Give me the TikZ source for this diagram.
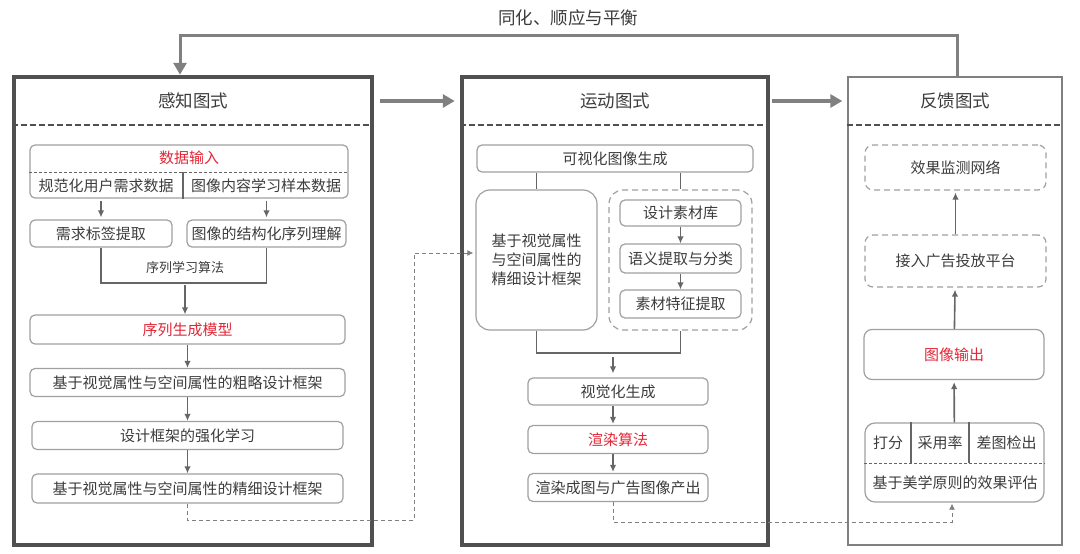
\documentclass[tikz,border=0pt]{standalone}
\usepackage{fontspec}
\setmainfont{Noto Sans CJK SC}
\usepackage{tikz}
\usetikzlibrary{shapes,arrows,arrows.meta}
\definecolor{frameGray}{HTML}{505050}
\definecolor{boxGray}{HTML}{A0A0A0}
\definecolor{lineGray}{HTML}{666666}
\definecolor{textGray}{HTML}{3C3C3C}
\definecolor{keyRed}{HTML}{E32636}
\tikzstyle{schemaFrame} = [rectangle, draw=frameGray, line width=4.5pt, inner sep=0pt]
\tikzstyle{block} = [rectangle, draw=boxGray, line width=1.2pt, rounded corners=5pt,
inner sep=0pt, text=textGray, font=\fontsize{15}{19}\selectfont]
\tikzstyle{dashblock} = [block, dash pattern=on 6pt off 4pt]
\tikzstyle{cellText} = [inner sep=0pt, text=textGray, font=\fontsize{15}{19}\selectfont]
\tikzstyle{headline} = [text=textGray, font=\fontsize{17.5}{20}\selectfont]
\tikzstyle{sepline} = [draw=frameGray, line width=1.6pt, dash pattern=on 6pt off 3pt]
\tikzstyle{thinDash} = [draw=lineGray, line width=0.8pt, dash pattern=on 3pt off 2pt]
\tikzstyle{line} = [draw=lineGray, line width=1.6pt]
\tikzstyle{arrowline} = [line, -{Latex[length=7pt, width=6.5pt]}]
\tikzstyle{bigarrow} = [draw=gray, line width=3.5pt, -{Triangle[length=12pt, width=13pt]}]
\tikzstyle{dashline} = [draw=gray, line width=1pt, dash pattern=on 4pt off 3pt, -{Latex[length=6pt, width=6pt]}]

\begin{document}
\begin{tikzpicture}[x=1pt, y=-1pt, node distance=53pt]
	\useasboundingbox (0,0) rectangle (1080,554);
	% Place frames
	\node [schemaFrame, minimum width=358, minimum height=468] (percFrame) at (193,311) {};
	\node [schemaFrame, minimum width=306, minimum height=468] (moveFrame) at (615,311) {};
	\node [schemaFrame, draw=gray, line width=1.3pt, minimum width=214, minimum height=468] (fbFrame) at (955,311) {};
	\node [headline] (percTitle) at (193,101) {感知图式};
	\node [headline] (moveTitle) at (615,101) {运动图式};
	\node [headline] (fbTitle) at (955,101) {反馈图式};
	\foreach \f in {percFrame, moveFrame, fbFrame}
		\path [sepline] (\f.west |- 0,125) -- (\f.east |- 0,125);

	\path [bigarrow, shorten <=6pt, shorten >=5pt] (percFrame.east |- percTitle) -- (moveFrame.west |- percTitle);
	\path [bigarrow, shorten <=2pt, shorten >=5pt] (moveFrame.east |- moveTitle) -- (fbFrame.west |- fbTitle);
	\coordinate (loopCorner) at (180,35);
	\path [bigarrow, line width=3pt] (fbFrame.north -| 957,0) |- (loopCorner) -- (loopCorner |- percFrame.north);
	\node [headline] (loopLabel) at (568,18) {同化、顺应与平衡};

	% Place nodes: perception
	\node [block, minimum width=318, minimum height=53] (dataIn) at (189,171.5) {};
	\node [cellText, text=keyRed] (dataTitle) at (189,158) {数据输入};
	\node [cellText] (dataLeft) at (106,186) {规范化用户需求数据};
	\node [cellText] (dataRight) at (266,186) {图像内容学习样本数据};
	\coordinate (dataSplit) at (183,172);
	\path [thinDash] (dataIn.west |- dataSplit) -- (dataIn.east |- dataSplit);
	\path [line, line width=1.2pt] (dataSplit) -- (dataIn.south -| dataSplit);

	\node [block, minimum width=142, minimum height=27] (tagBox) at (101,233.5) {需求标签提取};
	\node [block, minimum width=159, minimum height=27] (seqBox) at (266.5,233.5) {图像的结构化序列理解};
	\path [arrowline, shorten <=2pt, shorten >=2pt] (dataIn.south -| tagBox) -- (tagBox);
	\path [arrowline, shorten <=2pt, shorten >=2pt] (dataIn.south -| seqBox) -- (seqBox);
	\coordinate (algBase) at (185,283);
	\path [line] (tagBox.south) |- (algBase) -| (seqBox.south);
	\node [cellText, font=\fontsize{13}{16}\selectfont] (algLabel) at (185,268) {序列学习算法};

	\node [block, text=keyRed, minimum width=315, minimum height=29] (genModel) at (187.5,329.5) {序列生成模型};
	\node [block, minimum width=315, minimum height=28, below of=genModel] (roughDesign) {基于视觉属性与空间属性的粗略设计框架};
	\node [block, minimum width=311, minimum height=28, below of=roughDesign] (rlDesign) {设计框架的强化学习};
	\node [block, minimum width=311, minimum height=29, below of=rlDesign] (fineDesign) {基于视觉属性与空间属性的精细设计框架};
	\path [arrowline, line width=2pt, shorten <=2pt] (algBase) -- (algBase |- genModel.north);
	\path [arrowline] (genModel) -- (roughDesign);
	\path [arrowline] (roughDesign) -- (rlDesign);
	\path [arrowline] (rlDesign) -- (fineDesign);

	% Place nodes: motion
	\node [block, minimum width=276, minimum height=27] (genImage) at (615,158.5) {可视化图像生成};
	\node [block, rounded corners=14pt, minimum width=121, minimum height=140, align=center] (visFrame) at (536.5,260) {基于视觉属性\\与空间属性的\\精细设计框架};
	\node [dashblock, rounded corners=14pt, minimum width=143, minimum height=140] (matGroup) at (680.5,260) {};
	\node [block, minimum width=121, minimum height=26] (matLib) at (680.5,213) {设计素材库};
	\node [block, minimum width=121, minimum height=29, below of=matLib, node distance=45.5pt] (semBox) {语义提取与分类};
	\node [block, minimum width=121, minimum height=28, below of=semBox, node distance=45.5pt] (featBox) {素材特征提取};
	\path [arrowline] (matLib) -- (semBox);
	\path [arrowline] (semBox) -- (featBox);
	\path [line] (genImage.south -| visFrame) -- (visFrame.north);
	\path [line] (genImage.south -| matGroup) -- (matGroup.north);
	\coordinate (mergeB) at (613,353);
	\path [line] (visFrame.south) |- (mergeB) -| (matGroup.south);

	\node [block, minimum width=180, minimum height=27] (visGen) at (618,391.5) {视觉化生成};
	\node [block, text=keyRed, minimum width=180, minimum height=28, below of=visGen, node distance=48pt] (renderAlg) {渲染算法};
	\node [block, minimum width=180, minimum height=28, below of=renderAlg, node distance=48pt] (renderOut) {渲染成图与广告图像产出};
	\path [arrowline, shorten <=4pt, shorten >=4pt] (mergeB) -- (mergeB |- visGen.north);
	\path [arrowline, shorten >=1pt] (visGen.south -| mergeB) -- (renderAlg.north -| mergeB);
	\path [arrowline, shorten >=1pt] (renderAlg.south -| mergeB) -- (renderOut.north -| mergeB);

	% Place nodes: feedback
	\node [dashblock, rounded corners=8pt, minimum width=181, minimum height=45] (monNet) at (955.5,167.5) {效果监测网络};
	\node [dashblock, rounded corners=8pt, minimum width=181, minimum height=52] (adPlat) at (955.5,261) {接入广告投放平台};
	\node [block, rounded corners=8pt, text=keyRed, minimum width=180, minimum height=50] (imgOut) at (954,354.5) {图像输出};
	\node [block, rounded corners=10pt, minimum width=179, minimum height=79] (evalBox) at (954.5,462.5) {};
	\coordinate (evalSplit) at (911,463);
	\coordinate (evalSplitB) at (969,463);
	\path [thinDash] (evalBox.west |- evalSplit) -- (evalBox.east |- evalSplit);
	\path [line, line width=1.2pt] (evalBox.north -| evalSplit) -- (evalSplit);
	\path [line, line width=1.2pt] (evalBox.north -| evalSplitB) -- (evalSplitB);
	\node [cellText] (scoreTxt) at (888,443) {打分};
	\node [cellText] (rateTxt) at (940,443) {采用率};
	\node [cellText] (badTxt) at (1006.5,443) {差图检出};
	\node [cellText] (evalTxt) at (955,483) {基于美学原则的效果评估};
	\path [arrowline, shorten >=2pt] (evalBox) -- (imgOut);
	\path [arrowline, shorten >=2pt] (imgOut) -- (adPlat);
	\path [arrowline, shorten >=2pt] (adPlat) -- (monNet);

	% Dashed links between frames
	\coordinate (crossA) at (414,520);
	\coordinate (crossB) at (414,253);
	\path [dashline, shorten >=2pt] (fineDesign.south) |- (crossA) -- (crossB) -- (crossB -| visFrame.west);
	\coordinate (crossC) at (952,522);
	\path [dashline, shorten >=1pt] (renderOut.south -| mergeB) |- (crossC) -- (crossC |- evalBox.south);
\end{tikzpicture}
\end{document}
